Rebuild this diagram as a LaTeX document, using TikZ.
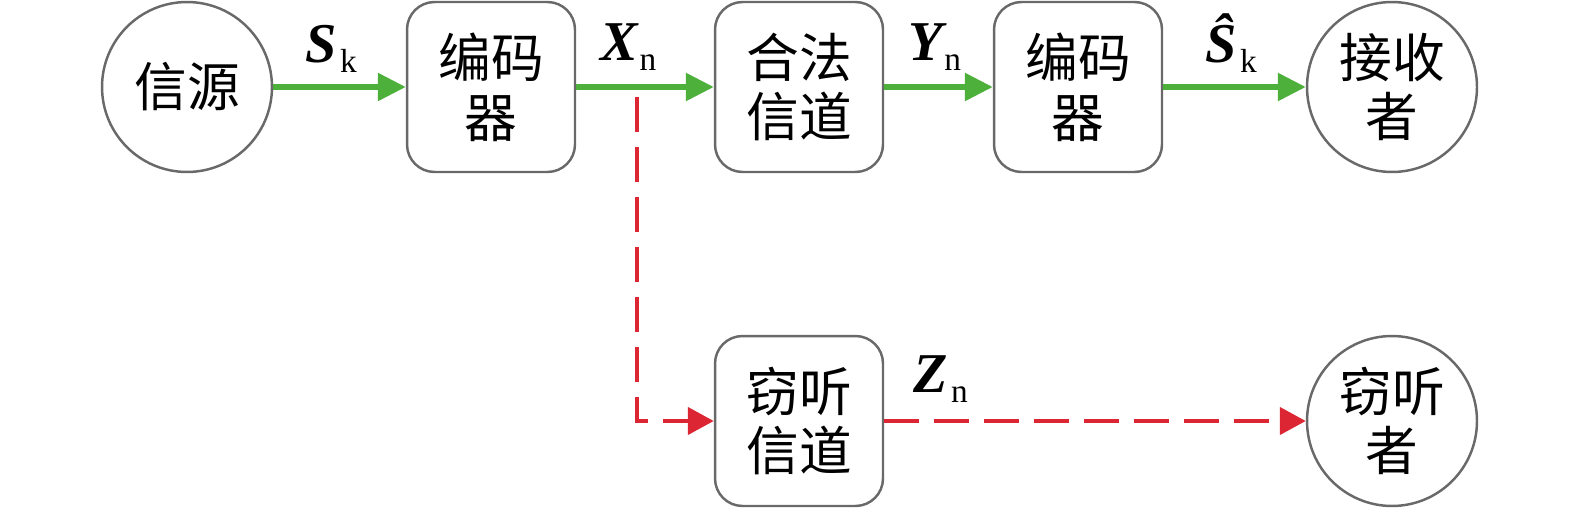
\documentclass[tikz,border=0pt]{standalone}
\usepackage{fontspec}
\setmainfont{Liberation Serif}
\newfontfamily\cjk{Noto Sans CJK SC}
\usetikzlibrary{arrows.meta}

\definecolor{linkgreen}{RGB}{76,176,58}
\definecolor{tapred}{RGB}{220,38,52}
\definecolor{edgegray}{RGB}{105,105,105}

\newcommand{\lsub}[1]{{\normalfont\fontsize{19}{19}\selectfont #1}}

\tikzset{
  block/.style={draw=edgegray, line width=1.4pt, rounded corners=0.55cm,
    minimum width=3.36cm, minimum height=3.4cm, inner sep=0pt, align=center,
    font=\cjk\fontsize{30}{34}\selectfont},
  endpoint/.style={draw=edgegray, line width=1.4pt, circle, minimum size=3.4cm,
    inner sep=0pt, align=center, font=\cjk\fontsize{30}{34}\selectfont},
  legal/.style={linkgreen, line width=3.2pt, -{Triangle[length=0.56cm,width=0.54cm]}},
  tap/.style={tapred, line width=2.5pt, dash pattern=on 0.7cm off 0.3cm,
    -{Triangle[length=0.52cm,width=0.54cm]}},
  sym/.style={anchor=base west, inner sep=0pt,
    font=\fontsize{32}{34}\selectfont\bfseries\itshape}
}

\begin{document}
\begin{tikzpicture}[x=0.02cm,y=-0.02cm]
    %\draw[help lines, color=gray!30] (0,0) grid[step=100] (1575,507);
    \useasboundingbox (0,0) rectangle (1575,507);
    % upper chain
    \node[endpoint] (src)   at (187,87)  {信源};
    \node[block]    (enc)   at (491,87)  {编码\\器};
    \node[block]    (legit) at (799,87)  {合法\\信道};
    \node[block]    (dec)   at (1078,87) {编码\\器};
    \node[endpoint] (recv)  at (1392,87) {接收\\者};
    % eavesdropper branch
    \node[block]    (eavch) at (799,421) {窃听\\信道};
    \node[endpoint] (eve)   at (1392,421) {窃听\\者};
    \coordinate (tapstart) at (637,97);

    \draw[legal] (src.east) -- (enc.west);
    \draw[legal] (enc.east) -- (legit.west);
    \draw[legal] (legit.east) -- (dec.west);
    \draw[legal] (dec.east) -- (recv.west);
    \draw[tap] (tapstart) |- (eavch.west);
    \draw[tap] (eavch.east) -- (eve.west);

    % signal labels
    \node[sym] (lsk) at (305,62)  {S\kern2pt\raisebox{-6pt}{\lsub{k}}};
    \node[sym] (lxn) at (600,60)  {X\kern1pt\raisebox{-6pt}{\lsub{n}}};
    \node[sym] (lyn) at (908,60)  {Y\kern1pt\raisebox{-6pt}{\lsub{n}}};
    \node[sym] (lhk) at (1205,62) {Ŝ\kern2pt\raisebox{-6pt}{\lsub{k}}};
    \node[sym] (lzn) at (913,392) {Z\kern2pt\raisebox{-6pt}{\lsub{n}}};
\end{tikzpicture}
\end{document}
